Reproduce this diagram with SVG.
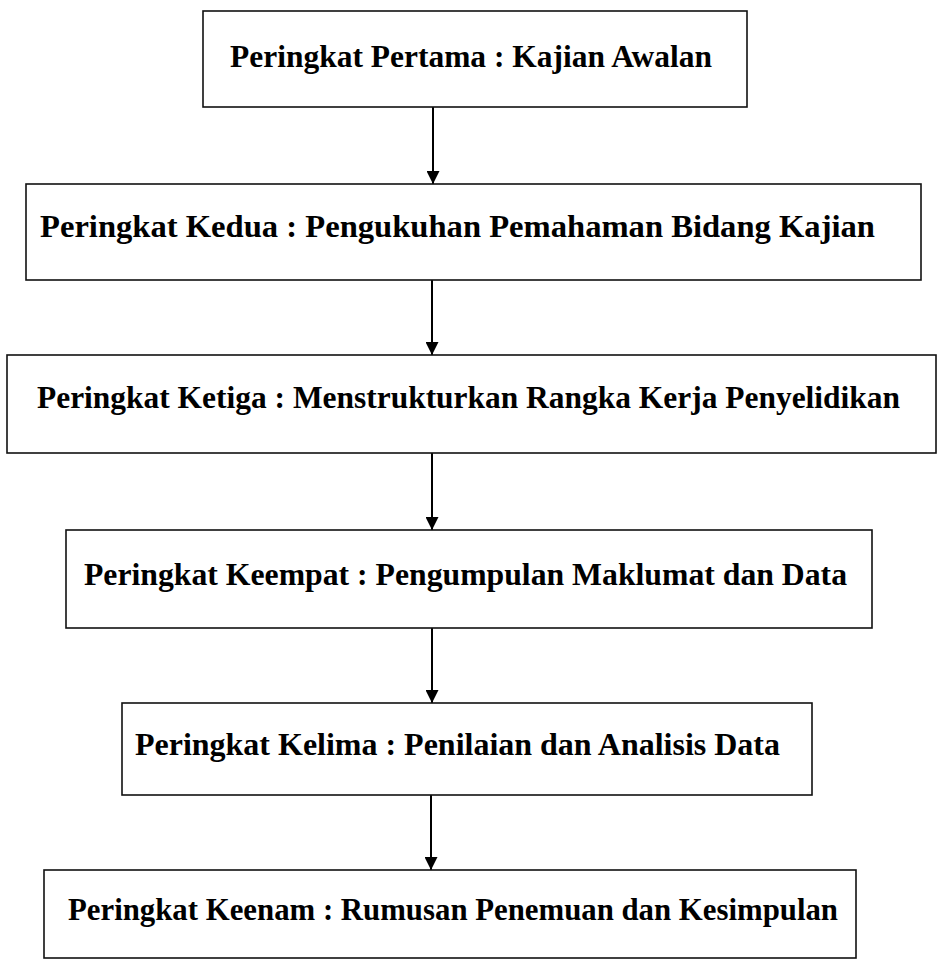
<svg xmlns="http://www.w3.org/2000/svg" width="938" height="965" viewBox="0 0 938 965">
<defs>
<marker id="ah" markerWidth="13" markerHeight="13" refX="13" refY="6.5" orient="auto" markerUnits="userSpaceOnUse" viewBox="0 0 13 13">
<path d="M0,0 L13,6.5 L0,13 Z" fill="#000"/>
</marker>
<style>
.box{fill:#fff;stroke:#111;stroke-width:1.6}
.lbl{font-family:"Liberation Serif","Times New Roman",serif;font-weight:bold;font-size:31.5px;fill:#000}
.conn{stroke:#000;stroke-width:2;fill:none}
</style>
</defs>
<rect width="938" height="965" fill="#fff"/>
<g id="connectors">
<line class="conn" x1="433" y1="107" x2="433" y2="184" marker-end="url(#ah)"/>
<line class="conn" x1="432" y1="280" x2="432" y2="355" marker-end="url(#ah)"/>
<line class="conn" x1="432" y1="453" x2="432" y2="530" marker-end="url(#ah)"/>
<line class="conn" x1="432" y1="628" x2="432" y2="703" marker-end="url(#ah)"/>
<line class="conn" x1="431" y1="795" x2="431" y2="870" marker-end="url(#ah)"/>
</g>
<g id="node1">
<rect class="box" x="203" y="11" width="544" height="96"/>
<text class="lbl" x="230" y="67" textLength="482" lengthAdjust="spacingAndGlyphs">Peringkat Pertama : Kajian Awalan</text>
</g>
<g id="node2">
<rect class="box" x="26" y="184" width="895" height="96"/>
<text class="lbl" x="40" y="237" textLength="835" lengthAdjust="spacingAndGlyphs">Peringkat Kedua : Pengukuhan Pemahaman Bidang Kajian</text>
</g>
<g id="node3">
<rect class="box" x="7" y="355" width="929" height="98"/>
<text class="lbl" x="37" y="408" textLength="863" lengthAdjust="spacingAndGlyphs">Peringkat Ketiga : Menstrukturkan Rangka Kerja Penyelidikan</text>
</g>
<g id="node4">
<rect class="box" x="66" y="530" width="806" height="98"/>
<text class="lbl" x="84" y="585" textLength="763" lengthAdjust="spacingAndGlyphs">Peringkat Keempat : Pengumpulan Maklumat dan Data</text>
</g>
<g id="node5">
<rect class="box" x="122" y="703" width="690" height="92"/>
<text class="lbl" x="135" y="755" textLength="645" lengthAdjust="spacingAndGlyphs">Peringkat Kelima : Penilaian dan Analisis Data</text>
</g>
<g id="node6">
<rect class="box" x="44" y="870" width="812" height="88"/>
<text class="lbl" x="68" y="920" textLength="770" lengthAdjust="spacingAndGlyphs">Peringkat Keenam : Rumusan Penemuan dan Kesimpulan</text>
</g>
</svg>
